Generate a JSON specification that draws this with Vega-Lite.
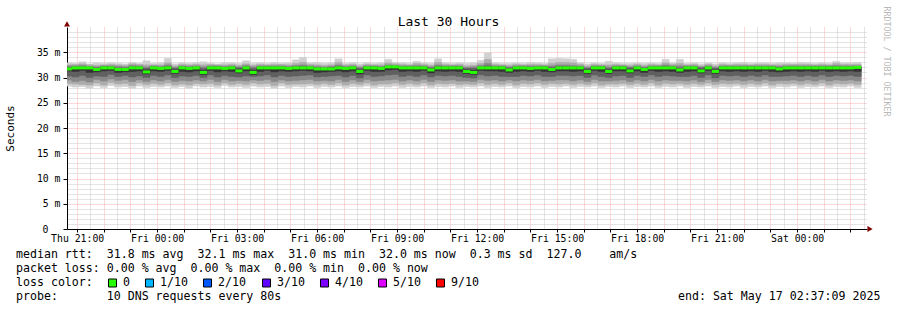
{
"$schema": "https://vega.github.io/schema/vega-lite/v6.json",
"background": "white",
"padding": {"left": 4, "top": 6, "right": 5, "bottom": 2},
"spacing": 5,
"config": {"font": "DejaVu Sans Mono", "view": {"stroke": null}, "axis": {"zindex": 1}},
"vconcat": [
{
"width": 800, "height": 202,
"data": {"values": [
{"t":"2025-05-15T20:32:00Z","t2":"2025-05-15T20:48:00Z","p1":28.3,"p2":28.8,"p3":29.5,"p4":30.3,"p5":31.3,"p6":31.8,"p7":32.0,"p8":32.3,"p9":32.5,"p10":32.9,"med":31.7},
{"t":"2025-05-15T20:48:00Z","t2":"2025-05-15T21:04:00Z","p1":28.1,"p2":28.7,"p3":29.2,"p4":30.1,"p5":31.2,"p6":31.9,"p7":32.1,"p8":32.3,"p9":32.6,"p10":32.8,"med":31.9},
{"t":"2025-05-15T21:04:00Z","t2":"2025-05-15T21:20:00Z","p1":28.2,"p2":28.6,"p3":29.4,"p4":30.4,"p5":31.4,"p6":31.9,"p7":32.1,"p8":32.4,"p9":32.7,"p10":33.1,"med":31.9},
{"t":"2025-05-15T21:20:00Z","t2":"2025-05-15T21:36:00Z","p1":27.9,"p2":28.5,"p3":29.1,"p4":30.0,"p5":31.0,"p6":31.9,"p7":32.0,"p8":32.2,"p9":32.5,"p10":32.7,"med":31.9},
{"t":"2025-05-15T21:36:00Z","t2":"2025-05-15T21:52:00Z","p1":28.3,"p2":28.9,"p3":29.6,"p4":30.3,"p5":31.1,"p6":31.7,"p7":31.9,"p8":32.1,"p9":32.4,"p10":32.9,"med":31.6},
{"t":"2025-05-15T21:52:00Z","t2":"2025-05-15T22:08:00Z","p1":28.0,"p2":28.5,"p3":29.3,"p4":30.2,"p5":31.3,"p6":31.9,"p7":32.1,"p8":32.3,"p9":32.5,"p10":32.8,"med":31.9},
{"t":"2025-05-15T22:08:00Z","t2":"2025-05-15T22:24:00Z","p1":28.4,"p2":29.0,"p3":29.7,"p4":30.6,"p5":31.4,"p6":31.9,"p7":32.1,"p8":32.3,"p9":32.6,"p10":32.9,"med":31.9},
{"t":"2025-05-15T22:24:00Z","t2":"2025-05-15T22:40:00Z","p1":28.1,"p2":28.7,"p3":29.4,"p4":30.2,"p5":31.0,"p6":31.7,"p7":31.9,"p8":32.2,"p9":32.5,"p10":32.8,"med":31.6},
{"t":"2025-05-15T22:40:00Z","t2":"2025-05-15T22:56:00Z","p1":28.2,"p2":28.8,"p3":29.6,"p4":30.4,"p5":31.1,"p6":31.7,"p7":31.9,"p8":32.1,"p9":32.4,"p10":32.7,"med":31.6},
{"t":"2025-05-15T22:56:00Z","t2":"2025-05-15T23:12:00Z","p1":27.9,"p2":28.4,"p3":29.2,"p4":30.1,"p5":31.2,"p6":31.9,"p7":32.1,"p8":32.4,"p9":32.7,"p10":33.0,"med":31.9},
{"t":"2025-05-15T23:12:00Z","t2":"2025-05-15T23:28:00Z","p1":28.3,"p2":28.9,"p3":29.5,"p4":30.3,"p5":31.3,"p6":31.9,"p7":32.1,"p8":32.3,"p9":32.6,"p10":32.8,"med":31.9},
{"t":"2025-05-15T23:28:00Z","t2":"2025-05-15T23:44:00Z","p1":28.0,"p2":28.6,"p3":29.2,"p4":30.0,"p5":30.7,"p6":31.5,"p7":31.8,"p8":32.1,"p9":32.5,"p10":33.3,"med":31.1},
{"t":"2025-05-15T23:44:00Z","t2":"2025-05-16T00:00:00Z","p1":28.2,"p2":28.8,"p3":29.5,"p4":30.4,"p5":31.3,"p6":31.9,"p7":32.1,"p8":32.3,"p9":32.5,"p10":32.8,"med":31.9},
{"t":"2025-05-16T00:00:00Z","t2":"2025-05-16T00:16:00Z","p1":28.1,"p2":28.6,"p3":29.3,"p4":30.2,"p5":31.2,"p6":31.8,"p7":32.0,"p8":32.2,"p9":32.5,"p10":32.9,"med":31.8},
{"t":"2025-05-16T00:16:00Z","t2":"2025-05-16T00:32:00Z","p1":28.3,"p2":28.9,"p3":29.6,"p4":30.5,"p5":31.4,"p6":31.9,"p7":32.2,"p8":32.5,"p9":32.9,"p10":33.8,"med":31.9},
{"t":"2025-05-16T00:32:00Z","t2":"2025-05-16T00:48:00Z","p1":28.0,"p2":28.5,"p3":29.2,"p4":30.0,"p5":30.8,"p6":31.5,"p7":31.8,"p8":32.0,"p9":32.3,"p10":32.7,"med":31.2},
{"t":"2025-05-16T00:48:00Z","t2":"2025-05-16T01:04:00Z","p1":28.2,"p2":28.7,"p3":29.4,"p4":30.3,"p5":31.2,"p6":31.9,"p7":32.1,"p8":32.3,"p9":32.6,"p10":32.9,"med":31.9},
{"t":"2025-05-16T01:04:00Z","t2":"2025-05-16T01:20:00Z","p1":27.9,"p2":28.5,"p3":29.3,"p4":30.2,"p5":31.1,"p6":31.8,"p7":32.0,"p8":32.2,"p9":32.5,"p10":32.8,"med":31.8},
{"t":"2025-05-16T01:20:00Z","t2":"2025-05-16T01:36:00Z","p1":28.3,"p2":28.8,"p3":29.5,"p4":30.4,"p5":31.3,"p6":31.9,"p7":32.1,"p8":32.3,"p9":32.6,"p10":32.9,"med":31.9},
{"t":"2025-05-16T01:36:00Z","t2":"2025-05-16T01:52:00Z","p1":28.1,"p2":28.7,"p3":29.3,"p4":30.0,"p5":30.6,"p6":31.4,"p7":31.8,"p8":32.1,"p9":32.5,"p10":33.1,"med":31.0},
{"t":"2025-05-16T01:52:00Z","t2":"2025-05-16T02:08:00Z","p1":28.2,"p2":28.8,"p3":29.6,"p4":30.5,"p5":31.4,"p6":31.9,"p7":32.1,"p8":32.3,"p9":32.6,"p10":32.8,"med":31.9},
{"t":"2025-05-16T02:08:00Z","t2":"2025-05-16T02:24:00Z","p1":28.0,"p2":28.5,"p3":29.2,"p4":30.1,"p5":31.1,"p6":31.9,"p7":32.1,"p8":32.3,"p9":32.5,"p10":32.7,"med":31.9},
{"t":"2025-05-16T02:24:00Z","t2":"2025-05-16T02:40:00Z","p1":28.4,"p2":28.9,"p3":29.6,"p4":30.4,"p5":31.3,"p6":31.8,"p7":32.0,"p8":32.2,"p9":32.5,"p10":32.9,"med":31.8},
{"t":"2025-05-16T02:40:00Z","t2":"2025-05-16T02:56:00Z","p1":28.1,"p2":28.6,"p3":29.3,"p4":30.2,"p5":31.2,"p6":31.9,"p7":32.1,"p8":32.3,"p9":32.6,"p10":32.9,"med":31.9},
{"t":"2025-05-16T02:56:00Z","t2":"2025-05-16T03:12:00Z","p1":28.2,"p2":28.8,"p3":29.4,"p4":30.1,"p5":30.9,"p6":31.6,"p7":31.9,"p8":32.1,"p9":32.4,"p10":32.8,"med":31.3},
{"t":"2025-05-16T03:12:00Z","t2":"2025-05-16T03:28:00Z","p1":28.0,"p2":28.6,"p3":29.3,"p4":30.3,"p5":31.3,"p6":31.9,"p7":32.1,"p8":32.4,"p9":32.7,"p10":33.3,"med":31.9},
{"t":"2025-05-16T03:28:00Z","t2":"2025-05-16T03:44:00Z","p1":28.3,"p2":28.9,"p3":29.5,"p4":30.2,"p5":30.6,"p6":31.4,"p7":31.8,"p8":32.1,"p9":32.4,"p10":32.8,"med":31.0},
{"t":"2025-05-16T03:44:00Z","t2":"2025-05-16T04:00:00Z","p1":28.1,"p2":28.7,"p3":29.4,"p4":30.3,"p5":31.2,"p6":31.9,"p7":32.1,"p8":32.3,"p9":32.6,"p10":32.9,"med":31.9},
{"t":"2025-05-16T04:00:00Z","t2":"2025-05-16T04:16:00Z","p1":28.2,"p2":28.8,"p3":29.6,"p4":30.5,"p5":31.4,"p6":31.9,"p7":32.1,"p8":32.3,"p9":32.5,"p10":32.8,"med":31.9},
{"t":"2025-05-16T04:16:00Z","t2":"2025-05-16T04:32:00Z","p1":27.9,"p2":28.4,"p3":29.2,"p4":30.1,"p5":31.1,"p6":31.9,"p7":32.1,"p8":32.3,"p9":32.6,"p10":33.0,"med":31.9},
{"t":"2025-05-16T04:32:00Z","t2":"2025-05-16T04:48:00Z","p1":28.3,"p2":28.9,"p3":29.5,"p4":30.4,"p5":31.3,"p6":31.9,"p7":32.1,"p8":32.3,"p9":32.6,"p10":32.8,"med":31.9},
{"t":"2025-05-16T04:48:00Z","t2":"2025-05-16T05:04:00Z","p1":28.0,"p2":28.6,"p3":29.3,"p4":30.2,"p5":31.2,"p6":31.8,"p7":32.0,"p8":32.2,"p9":32.5,"p10":32.9,"med":31.8},
{"t":"2025-05-16T05:04:00Z","t2":"2025-05-16T05:20:00Z","p1":28.2,"p2":28.7,"p3":29.4,"p4":30.3,"p5":31.3,"p6":31.9,"p7":32.1,"p8":32.4,"p9":32.8,"p10":33.5,"med":31.9},
{"t":"2025-05-16T05:20:00Z","t2":"2025-05-16T05:36:00Z","p1":28.1,"p2":28.7,"p3":29.5,"p4":30.4,"p5":31.4,"p6":31.9,"p7":32.2,"p8":32.5,"p9":33.0,"p10":34.0,"med":31.9},
{"t":"2025-05-16T05:36:00Z","t2":"2025-05-16T05:52:00Z","p1":28.3,"p2":28.8,"p3":29.6,"p4":30.5,"p5":31.3,"p6":31.9,"p7":32.1,"p8":32.3,"p9":32.6,"p10":32.9,"med":31.9},
{"t":"2025-05-16T05:52:00Z","t2":"2025-05-16T06:08:00Z","p1":28.0,"p2":28.6,"p3":29.3,"p4":30.1,"p5":31.0,"p6":31.7,"p7":31.9,"p8":32.2,"p9":32.5,"p10":33.0,"med":31.7},
{"t":"2025-05-16T06:08:00Z","t2":"2025-05-16T06:24:00Z","p1":28.2,"p2":28.8,"p3":29.4,"p4":30.2,"p5":31.1,"p6":31.7,"p7":31.9,"p8":32.1,"p9":32.4,"p10":32.8,"med":31.7},
{"t":"2025-05-16T06:24:00Z","t2":"2025-05-16T06:40:00Z","p1":28.1,"p2":28.6,"p3":29.3,"p4":30.3,"p5":31.2,"p6":31.7,"p7":32.0,"p8":32.2,"p9":32.5,"p10":32.9,"med":31.7},
{"t":"2025-05-16T06:40:00Z","t2":"2025-05-16T06:56:00Z","p1":28.3,"p2":28.9,"p3":29.6,"p4":30.4,"p5":31.3,"p6":31.9,"p7":32.2,"p8":32.5,"p9":33.0,"p10":33.7,"med":31.9},
{"t":"2025-05-16T06:56:00Z","t2":"2025-05-16T07:12:00Z","p1":28.0,"p2":28.5,"p3":29.2,"p4":30.1,"p5":31.1,"p6":31.8,"p7":32.0,"p8":32.2,"p9":32.5,"p10":32.8,"med":31.8},
{"t":"2025-05-16T07:12:00Z","t2":"2025-05-16T07:28:00Z","p1":28.2,"p2":28.8,"p3":29.5,"p4":30.4,"p5":31.3,"p6":31.9,"p7":32.1,"p8":32.3,"p9":32.6,"p10":32.9,"med":31.9},
{"t":"2025-05-16T07:28:00Z","t2":"2025-05-16T07:44:00Z","p1":28.1,"p2":28.6,"p3":29.2,"p4":29.9,"p5":30.7,"p6":31.5,"p7":31.8,"p8":32.0,"p9":32.3,"p10":32.7,"med":31.2},
{"t":"2025-05-16T07:44:00Z","t2":"2025-05-16T08:00:00Z","p1":28.3,"p2":28.9,"p3":29.6,"p4":30.5,"p5":31.4,"p6":31.9,"p7":32.1,"p8":32.3,"p9":32.6,"p10":32.9,"med":31.9},
{"t":"2025-05-16T08:00:00Z","t2":"2025-05-16T08:16:00Z","p1":28.0,"p2":28.5,"p3":29.3,"p4":30.2,"p5":31.2,"p6":31.9,"p7":32.1,"p8":32.3,"p9":32.5,"p10":32.8,"med":31.9},
{"t":"2025-05-16T08:16:00Z","t2":"2025-05-16T08:32:00Z","p1":28.2,"p2":28.7,"p3":29.4,"p4":30.3,"p5":31.2,"p6":31.8,"p7":32.0,"p8":32.2,"p9":32.5,"p10":32.9,"med":31.8},
{"t":"2025-05-16T08:32:00Z","t2":"2025-05-16T08:48:00Z","p1":28.1,"p2":28.7,"p3":29.5,"p4":30.5,"p5":31.5,"p6":32.0,"p7":32.3,"p8":32.5,"p9":32.9,"p10":33.6,"med":32.1},
{"t":"2025-05-16T08:48:00Z","t2":"2025-05-16T09:04:00Z","p1":28.3,"p2":28.9,"p3":29.6,"p4":30.6,"p5":31.6,"p6":32.0,"p7":32.2,"p8":32.4,"p9":32.7,"p10":33.0,"med":32.1},
{"t":"2025-05-16T09:04:00Z","t2":"2025-05-16T09:20:00Z","p1":28.0,"p2":28.6,"p3":29.3,"p4":30.2,"p5":31.2,"p6":31.9,"p7":32.1,"p8":32.3,"p9":32.6,"p10":32.9,"med":31.9},
{"t":"2025-05-16T09:20:00Z","t2":"2025-05-16T09:36:00Z","p1":28.2,"p2":28.8,"p3":29.5,"p4":30.4,"p5":31.3,"p6":31.9,"p7":32.1,"p8":32.3,"p9":32.5,"p10":32.8,"med":31.9},
{"t":"2025-05-16T09:36:00Z","t2":"2025-05-16T09:52:00Z","p1":28.1,"p2":28.6,"p3":29.3,"p4":30.2,"p5":31.2,"p6":31.9,"p7":32.1,"p8":32.4,"p9":32.8,"p10":33.2,"med":31.9},
{"t":"2025-05-16T09:52:00Z","t2":"2025-05-16T10:08:00Z","p1":28.3,"p2":28.9,"p3":29.6,"p4":30.5,"p5":31.4,"p6":31.9,"p7":32.1,"p8":32.3,"p9":32.6,"p10":32.9,"med":31.9},
{"t":"2025-05-16T10:08:00Z","t2":"2025-05-16T10:24:00Z","p1":28.0,"p2":28.5,"p3":29.2,"p4":30.1,"p5":30.9,"p6":31.6,"p7":31.9,"p8":32.1,"p9":32.4,"p10":32.8,"med":31.5},
{"t":"2025-05-16T10:24:00Z","t2":"2025-05-16T10:40:00Z","p1":28.2,"p2":28.8,"p3":29.5,"p4":30.4,"p5":31.3,"p6":31.9,"p7":32.2,"p8":32.5,"p9":33.0,"p10":33.7,"med":31.9},
{"t":"2025-05-16T10:40:00Z","t2":"2025-05-16T10:56:00Z","p1":28.1,"p2":28.7,"p3":29.4,"p4":30.3,"p5":31.2,"p6":31.9,"p7":32.1,"p8":32.3,"p9":32.6,"p10":32.9,"med":31.9},
{"t":"2025-05-16T10:56:00Z","t2":"2025-05-16T11:12:00Z","p1":28.3,"p2":28.8,"p3":29.5,"p4":30.4,"p5":31.3,"p6":31.9,"p7":32.1,"p8":32.3,"p9":32.5,"p10":32.8,"med":31.9},
{"t":"2025-05-16T11:12:00Z","t2":"2025-05-16T11:28:00Z","p1":28.0,"p2":28.6,"p3":29.3,"p4":30.2,"p5":31.2,"p6":31.9,"p7":32.1,"p8":32.3,"p9":32.6,"p10":32.9,"med":31.9},
{"t":"2025-05-16T11:28:00Z","t2":"2025-05-16T11:44:00Z","p1":28.2,"p2":28.7,"p3":29.3,"p4":30.0,"p5":30.8,"p6":31.5,"p7":31.8,"p8":32.0,"p9":32.3,"p10":32.8,"med":31.2},
{"t":"2025-05-16T11:44:00Z","t2":"2025-05-16T12:00:00Z","p1":28.1,"p2":28.6,"p3":29.2,"p4":29.9,"p5":30.6,"p6":31.4,"p7":31.8,"p8":32.1,"p9":32.4,"p10":32.9,"med":31.0},
{"t":"2025-05-16T12:00:00Z","t2":"2025-05-16T12:16:00Z","p1":28.3,"p2":28.9,"p3":29.6,"p4":30.5,"p5":31.4,"p6":31.9,"p7":32.1,"p8":32.4,"p9":32.8,"p10":33.4,"med":31.9},
{"t":"2025-05-16T12:16:00Z","t2":"2025-05-16T12:32:00Z","p1":28.0,"p2":28.6,"p3":29.4,"p4":30.3,"p5":31.3,"p6":31.9,"p7":32.3,"p8":32.8,"p9":33.6,"p10":34.9,"med":31.9},
{"t":"2025-05-16T12:32:00Z","t2":"2025-05-16T12:48:00Z","p1":28.2,"p2":28.8,"p3":29.5,"p4":30.4,"p5":31.3,"p6":31.9,"p7":32.1,"p8":32.3,"p9":32.6,"p10":32.9,"med":31.9},
{"t":"2025-05-16T12:48:00Z","t2":"2025-05-16T13:04:00Z","p1":28.1,"p2":28.6,"p3":29.3,"p4":30.2,"p5":31.2,"p6":31.9,"p7":32.1,"p8":32.3,"p9":32.5,"p10":32.8,"med":31.9},
{"t":"2025-05-16T13:04:00Z","t2":"2025-05-16T13:20:00Z","p1":28.3,"p2":28.9,"p3":29.5,"p4":30.2,"p5":31.0,"p6":31.6,"p7":31.9,"p8":32.1,"p9":32.4,"p10":32.8,"med":31.5},
{"t":"2025-05-16T13:20:00Z","t2":"2025-05-16T13:36:00Z","p1":28.0,"p2":28.5,"p3":29.3,"p4":30.2,"p5":31.2,"p6":31.9,"p7":32.1,"p8":32.3,"p9":32.6,"p10":32.9,"med":31.9},
{"t":"2025-05-16T13:36:00Z","t2":"2025-05-16T13:52:00Z","p1":28.2,"p2":28.8,"p3":29.5,"p4":30.4,"p5":31.3,"p6":31.9,"p7":32.1,"p8":32.3,"p9":32.5,"p10":32.8,"med":31.9},
{"t":"2025-05-16T13:52:00Z","t2":"2025-05-16T14:08:00Z","p1":28.1,"p2":28.7,"p3":29.4,"p4":30.3,"p5":31.2,"p6":31.8,"p7":32.0,"p8":32.3,"p9":32.6,"p10":33.0,"med":31.8},
{"t":"2025-05-16T14:08:00Z","t2":"2025-05-16T14:24:00Z","p1":28.3,"p2":28.9,"p3":29.6,"p4":30.5,"p5":31.4,"p6":31.9,"p7":32.1,"p8":32.3,"p9":32.6,"p10":32.9,"med":31.9},
{"t":"2025-05-16T14:24:00Z","t2":"2025-05-16T14:40:00Z","p1":28.0,"p2":28.6,"p3":29.3,"p4":30.2,"p5":31.2,"p6":31.9,"p7":32.1,"p8":32.3,"p9":32.5,"p10":32.8,"med":31.9},
{"t":"2025-05-16T14:40:00Z","t2":"2025-05-16T14:56:00Z","p1":28.2,"p2":28.8,"p3":29.4,"p4":30.2,"p5":31.1,"p6":31.7,"p7":32.0,"p8":32.3,"p9":32.8,"p10":33.7,"med":31.6},
{"t":"2025-05-16T14:56:00Z","t2":"2025-05-16T15:12:00Z","p1":28.1,"p2":28.7,"p3":29.5,"p4":30.4,"p5":31.3,"p6":31.9,"p7":32.2,"p8":32.5,"p9":33.0,"p10":33.8,"med":31.9},
{"t":"2025-05-16T15:12:00Z","t2":"2025-05-16T15:28:00Z","p1":28.3,"p2":28.8,"p3":29.5,"p4":30.4,"p5":31.3,"p6":31.9,"p7":32.2,"p8":32.5,"p9":33.0,"p10":33.7,"med":31.9},
{"t":"2025-05-16T15:28:00Z","t2":"2025-05-16T15:44:00Z","p1":28.0,"p2":28.6,"p3":29.3,"p4":30.3,"p5":31.2,"p6":31.9,"p7":32.1,"p8":32.4,"p9":32.9,"p10":33.6,"med":31.9},
{"t":"2025-05-16T15:44:00Z","t2":"2025-05-16T16:00:00Z","p1":28.2,"p2":28.8,"p3":29.5,"p4":30.4,"p5":31.3,"p6":31.9,"p7":32.1,"p8":32.3,"p9":32.6,"p10":32.9,"med":31.9},
{"t":"2025-05-16T16:00:00Z","t2":"2025-05-16T16:16:00Z","p1":28.1,"p2":28.6,"p3":29.2,"p4":30.0,"p5":30.8,"p6":31.5,"p7":31.8,"p8":32.0,"p9":32.3,"p10":32.7,"med":31.2},
{"t":"2025-05-16T16:16:00Z","t2":"2025-05-16T16:32:00Z","p1":28.3,"p2":28.9,"p3":29.6,"p4":30.5,"p5":31.4,"p6":31.9,"p7":32.1,"p8":32.3,"p9":32.6,"p10":32.9,"med":31.9},
{"t":"2025-05-16T16:32:00Z","t2":"2025-05-16T16:48:00Z","p1":28.0,"p2":28.5,"p3":29.3,"p4":30.2,"p5":31.2,"p6":31.9,"p7":32.1,"p8":32.3,"p9":32.5,"p10":32.8,"med":31.9},
{"t":"2025-05-16T16:48:00Z","t2":"2025-05-16T17:04:00Z","p1":28.2,"p2":28.7,"p3":29.3,"p4":30.0,"p5":30.8,"p6":31.5,"p7":31.8,"p8":32.1,"p9":32.5,"p10":33.2,"med":31.2},
{"t":"2025-05-16T17:04:00Z","t2":"2025-05-16T17:20:00Z","p1":28.1,"p2":28.7,"p3":29.4,"p4":30.3,"p5":31.3,"p6":31.9,"p7":32.1,"p8":32.3,"p9":32.6,"p10":32.9,"med":31.9},
{"t":"2025-05-16T17:20:00Z","t2":"2025-05-16T17:36:00Z","p1":28.3,"p2":28.8,"p3":29.5,"p4":30.4,"p5":31.3,"p6":31.9,"p7":32.1,"p8":32.3,"p9":32.5,"p10":32.8,"med":31.9},
{"t":"2025-05-16T17:36:00Z","t2":"2025-05-16T17:52:00Z","p1":28.0,"p2":28.6,"p3":29.2,"p4":30.0,"p5":30.9,"p6":31.6,"p7":31.9,"p8":32.1,"p9":32.4,"p10":32.8,"med":31.3},
{"t":"2025-05-16T17:52:00Z","t2":"2025-05-16T18:08:00Z","p1":28.2,"p2":28.8,"p3":29.5,"p4":30.4,"p5":31.3,"p6":31.9,"p7":32.1,"p8":32.3,"p9":32.6,"p10":32.9,"med":31.9},
{"t":"2025-05-16T18:08:00Z","t2":"2025-05-16T18:24:00Z","p1":28.1,"p2":28.6,"p3":29.3,"p4":30.2,"p5":31.0,"p6":31.7,"p7":31.9,"p8":32.1,"p9":32.4,"p10":32.8,"med":31.6},
{"t":"2025-05-16T18:24:00Z","t2":"2025-05-16T18:40:00Z","p1":28.3,"p2":28.9,"p3":29.6,"p4":30.5,"p5":31.4,"p6":31.9,"p7":32.1,"p8":32.3,"p9":32.6,"p10":32.9,"med":31.9},
{"t":"2025-05-16T18:40:00Z","t2":"2025-05-16T18:56:00Z","p1":28.0,"p2":28.5,"p3":29.3,"p4":30.2,"p5":31.2,"p6":31.9,"p7":32.1,"p8":32.3,"p9":32.5,"p10":32.8,"med":31.9},
{"t":"2025-05-16T18:56:00Z","t2":"2025-05-16T19:12:00Z","p1":28.2,"p2":28.8,"p3":29.5,"p4":30.4,"p5":31.3,"p6":31.9,"p7":32.2,"p8":32.5,"p9":32.9,"p10":33.6,"med":31.9},
{"t":"2025-05-16T19:12:00Z","t2":"2025-05-16T19:28:00Z","p1":28.1,"p2":28.7,"p3":29.4,"p4":30.3,"p5":31.2,"p6":31.9,"p7":32.1,"p8":32.3,"p9":32.6,"p10":32.9,"med":31.9},
{"t":"2025-05-16T19:28:00Z","t2":"2025-05-16T19:44:00Z","p1":28.3,"p2":28.8,"p3":29.4,"p4":30.2,"p5":31.0,"p6":31.6,"p7":31.9,"p8":32.3,"p9":32.8,"p10":33.6,"med":31.5},
{"t":"2025-05-16T19:44:00Z","t2":"2025-05-16T20:00:00Z","p1":28.0,"p2":28.6,"p3":29.3,"p4":30.2,"p5":31.2,"p6":31.9,"p7":32.1,"p8":32.3,"p9":32.5,"p10":32.8,"med":31.9},
{"t":"2025-05-16T20:00:00Z","t2":"2025-05-16T20:16:00Z","p1":28.2,"p2":28.8,"p3":29.5,"p4":30.4,"p5":31.3,"p6":31.9,"p7":32.1,"p8":32.3,"p9":32.6,"p10":32.9,"med":31.9},
{"t":"2025-05-16T20:16:00Z","t2":"2025-05-16T20:32:00Z","p1":28.1,"p2":28.6,"p3":29.2,"p4":30.0,"p5":30.9,"p6":31.6,"p7":31.9,"p8":32.1,"p9":32.3,"p10":32.7,"med":31.3},
{"t":"2025-05-16T20:32:00Z","t2":"2025-05-16T20:48:00Z","p1":28.3,"p2":28.9,"p3":29.6,"p4":30.5,"p5":31.4,"p6":31.9,"p7":32.1,"p8":32.3,"p9":32.6,"p10":32.9,"med":31.9},
{"t":"2025-05-16T20:48:00Z","t2":"2025-05-16T21:04:00Z","p1":28.0,"p2":28.6,"p3":29.2,"p4":29.9,"p5":30.8,"p6":31.5,"p7":31.8,"p8":32.0,"p9":32.3,"p10":32.7,"med":31.2},
{"t":"2025-05-16T21:04:00Z","t2":"2025-05-16T21:20:00Z","p1":28.2,"p2":28.8,"p3":29.5,"p4":30.4,"p5":31.3,"p6":31.9,"p7":32.1,"p8":32.3,"p9":32.6,"p10":32.9,"med":31.9},
{"t":"2025-05-16T21:20:00Z","t2":"2025-05-16T21:36:00Z","p1":28.1,"p2":28.7,"p3":29.4,"p4":30.3,"p5":31.2,"p6":31.9,"p7":32.1,"p8":32.3,"p9":32.5,"p10":32.8,"med":31.9},
{"t":"2025-05-16T21:36:00Z","t2":"2025-05-16T21:52:00Z","p1":28.3,"p2":28.8,"p3":29.5,"p4":30.4,"p5":31.3,"p6":31.9,"p7":32.1,"p8":32.3,"p9":32.6,"p10":32.9,"med":31.9},
{"t":"2025-05-16T21:52:00Z","t2":"2025-05-16T22:08:00Z","p1":28.0,"p2":28.6,"p3":29.3,"p4":30.2,"p5":31.2,"p6":31.9,"p7":32.1,"p8":32.3,"p9":32.6,"p10":33.0,"med":31.9},
{"t":"2025-05-16T22:08:00Z","t2":"2025-05-16T22:24:00Z","p1":28.2,"p2":28.8,"p3":29.5,"p4":30.4,"p5":31.3,"p6":31.9,"p7":32.1,"p8":32.3,"p9":32.5,"p10":32.8,"med":31.9},
{"t":"2025-05-16T22:24:00Z","t2":"2025-05-16T22:40:00Z","p1":28.1,"p2":28.6,"p3":29.3,"p4":30.2,"p5":31.2,"p6":31.9,"p7":32.1,"p8":32.3,"p9":32.6,"p10":32.9,"med":31.9},
{"t":"2025-05-16T22:40:00Z","t2":"2025-05-16T22:56:00Z","p1":28.3,"p2":28.9,"p3":29.6,"p4":30.5,"p5":31.4,"p6":31.9,"p7":32.1,"p8":32.3,"p9":32.6,"p10":32.9,"med":31.9},
{"t":"2025-05-16T22:56:00Z","t2":"2025-05-16T23:12:00Z","p1":28.0,"p2":28.5,"p3":29.3,"p4":30.2,"p5":31.2,"p6":31.9,"p7":32.1,"p8":32.3,"p9":32.5,"p10":32.8,"med":31.9},
{"t":"2025-05-16T23:12:00Z","t2":"2025-05-16T23:28:00Z","p1":28.2,"p2":28.8,"p3":29.4,"p4":30.2,"p5":31.1,"p6":31.7,"p7":32.0,"p8":32.2,"p9":32.5,"p10":32.9,"med":31.7},
{"t":"2025-05-16T23:28:00Z","t2":"2025-05-16T23:44:00Z","p1":28.1,"p2":28.7,"p3":29.4,"p4":30.3,"p5":31.2,"p6":31.9,"p7":32.1,"p8":32.3,"p9":32.6,"p10":32.9,"med":31.9},
{"t":"2025-05-16T23:44:00Z","t2":"2025-05-17T00:00:00Z","p1":28.3,"p2":28.8,"p3":29.5,"p4":30.4,"p5":31.3,"p6":31.9,"p7":32.1,"p8":32.3,"p9":32.6,"p10":32.8,"med":31.9},
{"t":"2025-05-17T00:00:00Z","t2":"2025-05-17T00:16:00Z","p1":28.0,"p2":28.6,"p3":29.3,"p4":30.2,"p5":31.2,"p6":31.9,"p7":32.1,"p8":32.3,"p9":32.6,"p10":33.0,"med":31.9},
{"t":"2025-05-17T00:16:00Z","t2":"2025-05-17T00:32:00Z","p1":28.2,"p2":28.8,"p3":29.5,"p4":30.4,"p5":31.3,"p6":31.9,"p7":32.1,"p8":32.3,"p9":32.6,"p10":32.9,"med":31.9},
{"t":"2025-05-17T00:32:00Z","t2":"2025-05-17T00:48:00Z","p1":28.1,"p2":28.6,"p3":29.3,"p4":30.2,"p5":31.2,"p6":31.9,"p7":32.1,"p8":32.3,"p9":32.5,"p10":32.8,"med":31.9},
{"t":"2025-05-17T00:48:00Z","t2":"2025-05-17T01:04:00Z","p1":28.3,"p2":28.9,"p3":29.6,"p4":30.5,"p5":31.4,"p6":31.9,"p7":32.1,"p8":32.3,"p9":32.6,"p10":32.9,"med":31.9},
{"t":"2025-05-17T01:04:00Z","t2":"2025-05-17T01:20:00Z","p1":28.0,"p2":28.5,"p3":29.3,"p4":30.2,"p5":31.2,"p6":31.9,"p7":32.1,"p8":32.3,"p9":32.5,"p10":32.8,"med":31.9},
{"t":"2025-05-17T01:20:00Z","t2":"2025-05-17T01:36:00Z","p1":28.2,"p2":28.8,"p3":29.5,"p4":30.4,"p5":31.3,"p6":31.9,"p7":32.1,"p8":32.4,"p9":32.8,"p10":33.2,"med":31.9},
{"t":"2025-05-17T01:36:00Z","t2":"2025-05-17T01:52:00Z","p1":28.1,"p2":28.7,"p3":29.4,"p4":30.3,"p5":31.2,"p6":31.9,"p7":32.1,"p8":32.3,"p9":32.6,"p10":32.9,"med":31.9},
{"t":"2025-05-17T01:52:00Z","t2":"2025-05-17T02:08:00Z","p1":28.3,"p2":28.8,"p3":29.5,"p4":30.4,"p5":31.3,"p6":31.9,"p7":32.1,"p8":32.3,"p9":32.6,"p10":32.9,"med":31.9},
{"t":"2025-05-17T02:08:00Z","t2":"2025-05-17T02:24:00Z","p1":28.0,"p2":28.6,"p3":29.3,"p4":30.2,"p5":31.2,"p6":32.0,"p7":32.1,"p8":32.3,"p9":32.6,"p10":33.0,"med":32.0}
]},
"resolve": {"axis": {"x": "independent", "y": "independent"}},
"layer": [
{"mark": {"type": "rect", "color": "#d0d0d0", "stroke": "#d0d0d0", "strokeWidth": 0.5, "clip": true},
 "encoding": {
  "x": {"field": "t", "type": "temporal", "scale": {"type": "utc", "domain": [1747341429000, 1747449429000], "nice": false},
        "axis": {"orient": "bottom", "values": [1747344600000,1747348200000,1747351800000,1747355400000,1747359000000,1747362600000,1747366200000,1747369800000,1747373400000,1747377000000,1747380600000,1747384200000,1747387800000,1747391400000,1747395000000,1747398600000,1747402200000,1747405800000,1747409400000,1747413000000,1747416600000,1747420200000,1747423800000,1747427400000,1747431000000,1747434600000,1747438200000,1747441800000,1747445400000,1747449000000],
                 "grid": true, "gridColor": "#c8c8c8", "gridDash": [1, 1], "labels": false, "ticks": false, "domain": false, "title": null}},
  "x2": {"field": "t2"},
  "y": {"field": "p1", "type": "quantitative", "scale": {"domain": [0, 40], "nice": false, "zero": false},
        "axis": {"orient": "left", "values": [1,2,3,4,6,7,8,9,11,12,13,14,16,17,18,19,21,22,23,24,26,27,28,29,31,32,33,34,36,37,38,39],
                 "grid": true, "gridColor": "#c8c8c8", "gridDash": [1, 1], "labels": false, "ticks": false, "domain": false, "title": null}},
  "y2": {"field": "p10"}}},
{"mark": {"type": "rect", "color": "#acacac", "stroke": "#acacac", "strokeWidth": 0.5, "clip": true},
 "encoding": {"x": {"field": "t", "type": "temporal", "axis": null}, "x2": {"field": "t2"},
  "y": {"field": "p2", "type": "quantitative", "axis": null}, "y2": {"field": "p9"}}},
{"mark": {"type": "rect", "color": "#888888", "stroke": "#888888", "strokeWidth": 0.5, "clip": true},
 "encoding": {"x": {"field": "t", "type": "temporal", "axis": null}, "x2": {"field": "t2"},
  "y": {"field": "p3", "type": "quantitative", "axis": null}, "y2": {"field": "p8"}}},
{"mark": {"type": "rect", "color": "#606060", "stroke": "#606060", "strokeWidth": 0.5, "clip": true},
 "encoding": {"x": {"field": "t", "type": "temporal", "axis": null}, "x2": {"field": "t2"},
  "y": {"field": "p4", "type": "quantitative", "axis": null}, "y2": {"field": "p7"}}},
{"mark": {"type": "rect", "color": "#333333", "stroke": "#333333", "strokeWidth": 0.5, "clip": true},
 "encoding": {"x": {"field": "t", "type": "temporal", "axis": null}, "x2": {"field": "t2"},
  "y": {"field": "p5", "type": "quantitative", "axis": null}, "y2": {"field": "p6"}}},
{"mark": {"type": "rule", "color": "#26ff00", "strokeWidth": 3, "clip": true},
 "encoding": {
  "x": {"field": "t", "type": "temporal",
        "axis": {"orient": "bottom", "values": [1747342800000,1747346400000,1747350000000,1747353600000,1747357200000,1747360800000,1747364400000,1747368000000,1747371600000,1747375200000,1747378800000,1747382400000,1747386000000,1747389600000,1747393200000,1747396800000,1747400400000,1747404000000,1747407600000,1747411200000,1747414800000,1747418400000,1747422000000,1747425600000,1747429200000,1747432800000,1747436400000,1747440000000,1747443600000,1747447200000],
                 "grid": true, "gridColor": "#ff0000", "gridOpacity": 0.3, "gridDash": [1, 1],
                 "labelExpr": "utchours(datum.value) % 3 == 0 ? utcFormat(datum.value, '%a %H:%M') : ''",
                 "labelFont": "DejaVu Sans Mono", "labelFontSize": 9.8, "labelColor": "#000000", "labelOverlap": false, "labelFlush": false,
                 "tickColor": "#000000", "tickSize": 3, "labelPadding": 1, "domainColor": "#000000", "title": null}},
  "x2": {"field": "t2"},
  "y": {"field": "med", "type": "quantitative",
        "axis": {"orient": "left", "values": [0,5,10,15,20,25,30,35],
                 "grid": true, "gridColor": "#ff0000", "gridOpacity": 0.3, "gridDash": [1, 1],
                 "labelExpr": "datum.value == 0 ? '0' : datum.value + ' m'",
                 "labelPadding": {"condition": {"test": "datum.value == 0", "value": 15}, "value": 3},
                 "labelFont": "DejaVu Sans Mono", "labelFontSize": 9.8, "labelColor": "#000000",
                 "tickColor": "#000000", "tickSize": 4, "domainColor": "#000000",
                 "title": "Seconds", "titleFont": "DejaVu Sans Mono", "titleFontSize": 11, "titleFontWeight": "normal", "titleColor": "#000000", "titlePadding": 21}}}},
{"data": {"values": [{}]},
 "mark": {"type": "point", "shape": "triangle-up", "filled": true, "size": 36, "color": "#800000", "opacity": 1},
 "encoding": {
  "x": {"datum": {"year": 2025, "month": 5, "date": 15, "hours": 20, "minutes": 37, "seconds": 9, "utc": true}, "type": "temporal",
        "axis": {"orient": "top", "labels": false, "ticks": false, "domain": false, "grid": false,
                 "title": "Last 30 Hours", "titleFont": "DejaVu Sans Mono", "titleFontSize": 13, "titleFontWeight": "normal", "titleColor": "#000000",
                 "titleX": 381, "titleY": -2, "titleAlign": "center", "titleBaseline": "alphabetic", "titleAngle": 0}},
  "y": {"datum": 40.6, "type": "quantitative",
        "axis": {"orient": "right", "labels": false, "ticks": false, "domain": false, "grid": false,
                 "title": "RRDTOOL / TOBI OETIKER", "titleFont": "DejaVu Sans Mono", "titleFontSize": 8.3, "titleFontWeight": "normal", "titleColor": "#b8b8b8",
                 "titleAngle": 90, "titleX": 18, "titleY": -21, "titleAlign": "left", "titleBaseline": "middle"}}}},
{"data": {"values": [{}]},
 "mark": {"type": "point", "shape": "triangle-right", "filled": true, "size": 36, "color": "#800000", "opacity": 1},
 "encoding": {
  "x": {"datum": {"year": 2025, "month": 5, "date": 17, "hours": 2, "minutes": 44, "seconds": 0, "utc": true}, "type": "temporal", "axis": null},
  "y": {"datum": 0, "type": "quantitative", "axis": null}}}
]
},
{
"width": 800, "height": 56,
"layer": [
{"data": {"values": [
  {"line": 1, "col": 0, "text": "median rtt:\u00a0\u00a031.8 ms avg\u00a0\u00a032.1 ms max\u00a0\u00a031.0 ms min\u00a0\u00a032.0 ms now\u00a0\u00a00.3 ms sd\u00a0\u00a0127.0\u00a0\u00a0\u00a0\u00a0am/s"},
  {"line": 2, "col": 0, "text": "packet loss: 0.00 % avg\u00a0\u00a00.00 % max\u00a0\u00a00.00 % min\u00a0\u00a00.00 % now"},
  {"line": 3, "col": 0, "text": "loss color:"},
  {"line": 4, "col": 0, "text": "probe:\u00a0\u00a0\u00a0\u00a0\u00a0\u00a0\u00a010 DNS requests every 80s"},
  {"line": 4, "col": 94.57, "text": "end: Sat May 17 02:37:09 2025"}
 ]},
 "mark": {"type": "text", "align": "left", "baseline": "middle", "font": "DejaVu Sans Mono", "fontSize": 11.6, "color": "#000000"},
 "encoding": {
  "x": {"field": "col", "type": "quantitative", "scale": {"domain": [0, 125], "range": [-51, 824], "nice": false, "zero": false}, "axis": null},
  "y": {"field": "line", "type": "quantitative", "scale": {"domain": [0.5, 4.5], "reverse": true, "nice": false, "zero": false}, "axis": null},
  "text": {"field": "text"}}},
{"data": {"values": [
  {"line": 3, "col": 13.79, "loss": "0"},
  {"line": 3, "col": 19.07, "loss": "1/10"},
  {"line": 3, "col": 27.36, "loss": "2/10"},
  {"line": 3, "col": 35.79, "loss": "3/10"},
  {"line": 3, "col": 44.07, "loss": "4/10"},
  {"line": 3, "col": 52.36, "loss": "5/10"},
  {"line": 3, "col": 60.64, "loss": "9/10"}
 ]},
 "layer": [
  {"mark": {"type": "point", "shape": "square", "filled": true, "size": 64, "stroke": "#000000", "strokeWidth": 1, "opacity": 1},
   "encoding": {
    "x": {"field": "col", "type": "quantitative", "axis": null},
    "y": {"field": "line", "type": "quantitative", "axis": null},
    "fill": {"field": "loss", "type": "nominal", "legend": null,
             "scale": {"domain": ["0", "1/10", "2/10", "3/10", "4/10", "5/10", "9/10"], "range": ["#26ff00", "#00b8ff", "#0059ff", "#5e00ff", "#7e00ff", "#dd00ff", "#ff0000"]}}}},
  {"mark": {"type": "text", "align": "left", "baseline": "middle", "font": "DejaVu Sans Mono", "fontSize": 11.6, "color": "#000000", "xOffset": 10.5},
   "encoding": {
    "x": {"field": "col", "type": "quantitative", "axis": null},
    "y": {"field": "line", "type": "quantitative", "axis": null},
    "text": {"field": "loss"}}}
 ]}
]
}
]
}
